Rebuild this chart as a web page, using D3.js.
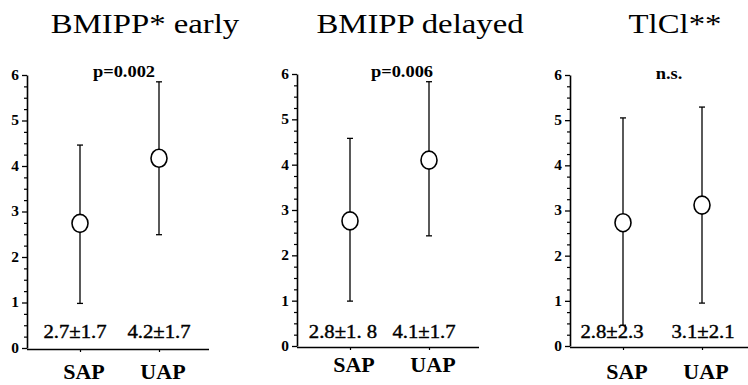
<!DOCTYPE html>
<html>
<head>
<meta charset="utf-8">
<script src="https://cdn.jsdelivr.net/npm/d3@7"></script>
<style>
  body { margin: 0; background: #fff; }
  svg { display: block; }
</style>
</head>
<body>
<svg id="chart" width="748" height="385"></svg>
<script>
// chart values
const titles = ['BMIPP* early', 'BMIPP delayed', 'TlCl**'];
const pLabels = ['p=0.002', 'p=0.006', 'n.s.'];
const groups = ['SAP', 'UAP'];
const means = [[2.74, 4.17], [2.76, 4.1], [2.73, 3.12]];
const upper = [[4.46, 5.85], [4.58, 5.83], [5.05, 5.29]];
const lower = [[0.98, 2.49], [0.99, 2.43], [0.46, 0.95]];
const statText = [['2.7±1.7', '4.2±1.7'], ['2.8±1. 8', '4.1±1.7'], ['2.8±2.3', '3.1±2.1']];
const yTicks = [0, 1, 2, 3, 4, 5, 6];

// where each panel sits on the page
const layout = [
  { left: 27, right: 209, top: 75, bottom: 348, titleX: 145, pX: 124, pY: 77, catY: 379, statDx: [-5, 0] },
  { left: 297, right: 479, top: 74, bottom: 346, titleX: 420, pX: 402, pY: 77, catY: 372, statDx: [-7, -5] },
  { left: 570, right: 760, top: 75, bottom: 346, titleX: 675, pX: 669, pY: 79, catY: 379, statDx: [-11, 1] },
];

const serif = 'Liberation Serif';
const svg = d3.select('#chart');

// the original face is wider than Times, so widen the glyphs a bit
function widen(sel, k) {
  sel.each(function () {
    const len = this.getComputedTextLength();
    d3.select(this).attr('textLength', len * k).attr('lengthAdjust', 'spacingAndGlyphs');
  });
}

layout.forEach((lay, i) => {
  const g = svg.append('g').attr('font-family', serif);

  const y = d3.scaleLinear().domain([0, 6]).range([lay.bottom, lay.top]);
  const x = d3.scalePoint().domain(groups).range([lay.left + 53, lay.left + 132]);

  // title
  g.append('text')
    .attr('x', lay.titleX)
    .attr('y', 33)
    .attr('text-anchor', 'middle')
    .attr('font-size', 28)
    .text(titles[i])
    .call(widen, 1.17);

  // minor ticks every 0.25
  g.append('g')
    .attr('transform', `translate(${lay.left},0)`)
    .call(d3.axisLeft(y).tickValues(d3.range(0, 6.01, 0.25).filter((v) => v % 1 !== 0)).tickSize(3).tickFormat(''))
    .call((a) => a.select('.domain').remove())
    .call((a) => a.selectAll('line').attr('stroke-width', 1.2));

  // y axis
  g.append('g')
    .attr('transform', `translate(${lay.left},0)`)
    .call(d3.axisLeft(y).tickValues(yTicks).tickSize(5).tickSizeOuter(0).tickPadding(3).tickFormat(d3.format('d')))
    .attr('font-family', serif)
    .attr('font-size', 14)
    .attr('font-weight', 'bold')
    .call((a) => a.select('.domain').attr('stroke-width', 1.6))
    .call((a) => a.selectAll('line').attr('stroke-width', 1.3))
    .call((a) => a.selectAll('text').attr('fill', '#000').call(widen, 1.1));

  // x axis
  g.append('g')
    .attr('transform', `translate(0,${lay.bottom + 1})`)
    .call(d3.axisBottom(x).tickSize(3).tickSizeOuter(0).tickFormat(''))
    .call((a) => a.select('.domain').attr('d', `M${lay.left},0.5H${lay.right}`).attr('stroke-width', 1.6))
    .call((a) => a.selectAll('line').attr('stroke-width', 1.2));

  // category labels
  g.append('g')
    .selectAll('text')
    .data(groups)
    .enter()
    .append('text')
    .attr('x', (d) => x(d) + 4)
    .attr('y', lay.catY)
    .attr('text-anchor', 'middle')
    .attr('font-weight', 'bold')
    .attr('font-size', 20)
    .text((d) => d)
    .call(widen, 1.1);

  // p value
  g.append('text')
    .attr('x', lay.pX)
    .attr('y', lay.pY)
    .attr('text-anchor', 'middle')
    .attr('font-weight', 'bold')
    .attr('font-size', 16)
    .text(pLabels[i])
    .call(widen, 1.15);

  // whiskers
  const bars = g.append('g').selectAll('g')
    .data(groups.map((d, j) => ({ group: d, mean: means[i][j], hi: upper[i][j], lo: lower[i][j], text: statText[i][j], dx: lay.statDx[j] })))
    .enter()
    .append('g');

  bars.append('line')
    .attr('x1', (d) => x(d.group))
    .attr('x2', (d) => x(d.group))
    .attr('y1', (d) => y(d.hi))
    .attr('y2', (d) => y(d.lo))
    .attr('stroke', '#000')
    .attr('stroke-width', 1.3);

  ['hi', 'lo'].forEach((k) => {
    bars.append('line')
      .attr('x1', (d) => x(d.group) - 3)
      .attr('x2', (d) => x(d.group) + 3)
      .attr('y1', (d) => y(d[k]))
      .attr('y2', (d) => y(d[k]))
      .attr('stroke', '#000')
      .attr('stroke-width', 1.3);
  });

  bars.append('ellipse')
    .attr('cx', (d) => x(d.group))
    .attr('cy', (d) => y(d.mean))
    .attr('rx', 8)
    .attr('ry', 9)
    .attr('fill', '#fff')
    .attr('stroke', '#000')
    .attr('stroke-width', 1.6);

  // mean ± sd, slightly heavier than regular like the scan
  bars.append('text')
    .attr('x', (d) => x(d.group) + d.dx)
    .attr('y', 338)
    .attr('text-anchor', 'middle')
    .attr('font-size', 18)
    .attr('stroke', '#000')
    .attr('stroke-width', 0.4)
    .text((d) => d.text)
    .call(widen, 1.15);
});
</script>
</body>
</html>
